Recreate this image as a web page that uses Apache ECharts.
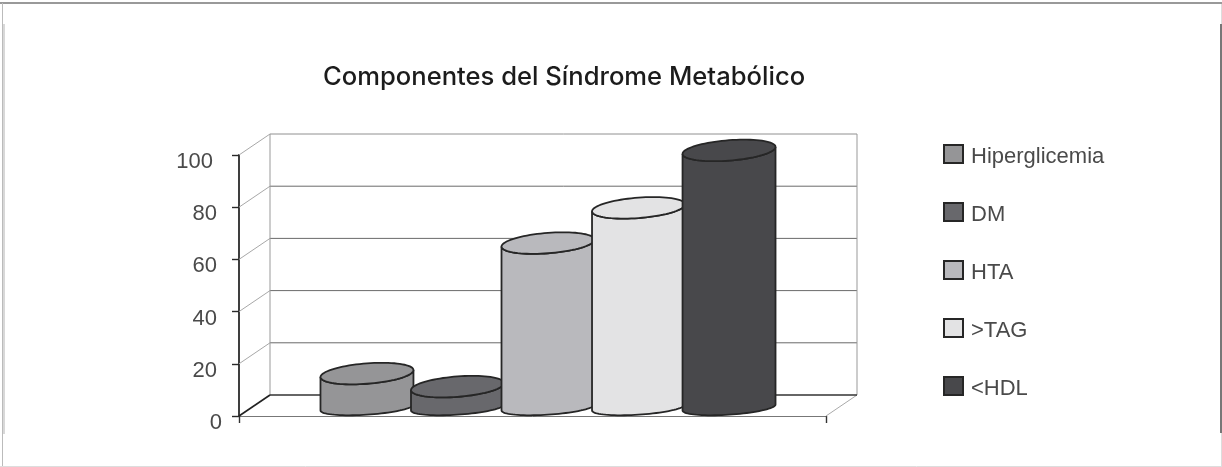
<!DOCTYPE html>
<html>
<head>
<meta charset="utf-8">
<style>html,body{margin:0;padding:0;background:#fff}#c{width:1222px;height:467px}</style>
<script src="https://cdn.jsdelivr.net/npm/echarts@6/dist/echarts.min.js"></script>
</head>
<body>
<div id="c"></div>
<script>
const titleText = 'Componentes del Síndrome Metabólico';
const categories = [''];
const seriesNames = ['Hiperglicemia', 'DM', 'HTA', '>TAG', '<HDL'];
const seriesValues = [13, 8, 63, 76.5, 98.5];
const seriesColors = ['#959597', '#68686c', '#b9b9bd', '#e3e3e4', '#48484b'];
const yMin = 0, yMax = 100, yStep = 20;

const depthX = 31, depthY = 21;
const FONT = '"Liberation Sans", Arial, sans-serif';

function ellipsePts(cx, cy, a, b, s, t0, t1, n) {
  const pts = [];
  for (let i = 0; i <= n; i++) {
    const t = t0 + (t1 - t0) * i / n;
    pts.push([cx + a * Math.cos(t), cy + b * Math.sin(t) - s * Math.cos(t)]);
  }
  return pts;
}

function cylinderItem(idx) {
  return function (params, api) {
    const band = api.size([1, 0])[0];
    const spacing = band * 0.1542, a = band * 0.0792;
    const v = api.value(1);
    const top = api.coord([0, v]);
    const base = api.coord([0, 0]);
    const cx = top[0] + depthX / 2 + (idx - 2) * spacing;
    const cyTop = top[1] - 8.5;
    const cyBase = base[1] - 8.5;
    const lower = ellipsePts(cx, cyBase, a, 7.2, 3, 0, Math.PI, 40);
    const upper = ellipsePts(cx, cyTop, a, 10.2, 3.5, Math.PI, 0, 40);
    const full = ellipsePts(cx, cyTop, a, 10.2, 3.5, 0, Math.PI * 2, 80);
    const st = { fill: seriesColors[idx], stroke: '#262626', lineWidth: 1.8 };
    return {
      type: 'group',
      children: [
        { type: 'polygon', shape: { points: lower.concat(upper) }, style: st },
        { type: 'polygon', shape: { points: full }, style: st }
      ]
    };
  };
}

function wallItem(params, api) {
  const band = api.size([1, 0])[0];
  const mid = api.coord([0, yMin]);
  const x0 = mid[0] - band / 2, x1 = mid[0] + band / 2;
  const kids = [];
  const line = (xa, ya, xb, yb, c, w) => kids.push({
    type: 'line', shape: { x1: xa, y1: ya, x2: xb, y2: yb },
    style: { stroke: c, lineWidth: w }
  });
  for (let t = yMin; t <= yMax; t += yStep) {
    const y = api.coord([0, t])[1];
    if (t === yMin) continue;
    line(x0, y, x0 + depthX, y - depthY, '#a8a8a8', 1);
    line(x0 + depthX, y - depthY, x1 + depthX, y - depthY, t === yMax ? '#909090' : '#6a6a6a', 1);
  }
  const yb = api.coord([0, yMin])[1], yt = api.coord([0, yMax])[1];
  line(x0 + depthX, yt - depthY, x0 + depthX, yb - depthY, '#999', 1);
  line(x1 + depthX, yt - depthY, x1 + depthX, yb - depthY, '#999', 1);
  line(x1, yb, x1 + depthX, yb - depthY, '#aaa', 1);
  line(x0 + depthX, yb - depthY, x1 + depthX, yb - depthY, '#333', 1.6);
  line(x0, yb, x0 + depthX, yb - depthY, '#222', 1.6);
  return { type: 'group', children: kids };
}

const chart = echarts.init(document.getElementById('c'), null, { renderer: 'canvas' });
const series = [{
  type: 'custom', name: 'walls', silent: true, z: 1,
  renderItem: wallItem, data: [[0, yMin]], encode: { x: 0, y: 1 }, clip: false
}];
seriesNames.forEach((name, i) => series.push({
  type: 'custom', name, z: 3 + i,
  renderItem: cylinderItem(i),
  data: [[0, seriesValues[i]]],
  encode: { x: 0, y: 1 },
  clip: false,
  itemStyle: { color: seriesColors[i], borderColor: '#262626', borderWidth: 1.6 }
}));

const lab = { fontFamily: FONT, fontSize: 22, color: '#4a4a4a', lineHeight: 14 };

chart.setOption({
  animation: false,
  backgroundColor: '#fff',
  title: {
    text: titleText, left: 318, top: 59,
    textStyle: { fontFamily: 'Inter, "Liberation Sans", sans-serif', fontSize: 25.6, fontWeight: 500, color: '#1c1c1c' }
  },
  legend: {
    orient: 'vertical', left: 943, top: 144, padding: 0,
    itemWidth: 19, itemHeight: 18, itemGap: 34,
    icon: 'rect',
    data: seriesNames,
    selectedMode: false,
    formatter: '{n|{name}}',
    textStyle: {
      rich: { n: { fontFamily: FONT, fontSize: 22, color: '#4a4a4a', padding: [6, 0, 0, 3] } }
    }
  },
  grid: { left: 239, top: 155, width: 587, height: 261, containLabel: false },
  xAxis: {
    type: 'category', data: categories,
    axisLine: { lineStyle: { color: '#777', width: 1 } },
    axisTick: { show: true, length: 7, lineStyle: { color: '#333', width: 1.4 } },
    axisLabel: { show: false }
  },
  yAxis: {
    type: 'value', min: yMin, max: yMax, interval: yStep,
    axisLine: { show: true, lineStyle: { color: '#2a2a2a', width: 1.8 } },
    axisTick: { show: true, length: 7, lineStyle: { color: '#2a2a2a', width: 1.4 } },
    splitLine: { show: false },
    axisLabel: {
      margin: 17, verticalAlign: 'top',
      formatter: v => `{${v === 100 ? 'a' : v === 0 ? 'c' : 'b'}|${v}}`,
      rich: {
        a: Object.assign({ padding: [0, 9, 0, 0] }, lab),
        b: Object.assign({ padding: [0, 5, 0, 0] }, lab),
        c: Object.assign({}, lab)
      }
    }
  },
  graphic: [
    { type: 'line', shape: { x1: 0, y1: 3, x2: 1222, y2: 3 }, style: { stroke: '#999', lineWidth: 2 } },
    { type: 'line', shape: { x1: 2.5, y1: 3, x2: 2.5, y2: 467 }, style: { stroke: '#bbb', lineWidth: 1 } },
    { type: 'line', shape: { x1: 4, y1: 24, x2: 4, y2: 434 }, style: { stroke: '#d8d8d8', lineWidth: 2 } },
    { type: 'line', shape: { x1: 1221.5, y1: 4, x2: 1221.5, y2: 467 }, style: { stroke: '#ddd', lineWidth: 1 } },
    { type: 'line', shape: { x1: 1221, y1: 24, x2: 1221, y2: 433 }, style: { stroke: '#777', lineWidth: 2 } },
    { type: 'line', shape: { x1: 0, y1: 466.5, x2: 1222, y2: 466.5 }, style: { stroke: '#ddd', lineWidth: 1 } }
  ],
  series
});
</script>
</body>
</html>
